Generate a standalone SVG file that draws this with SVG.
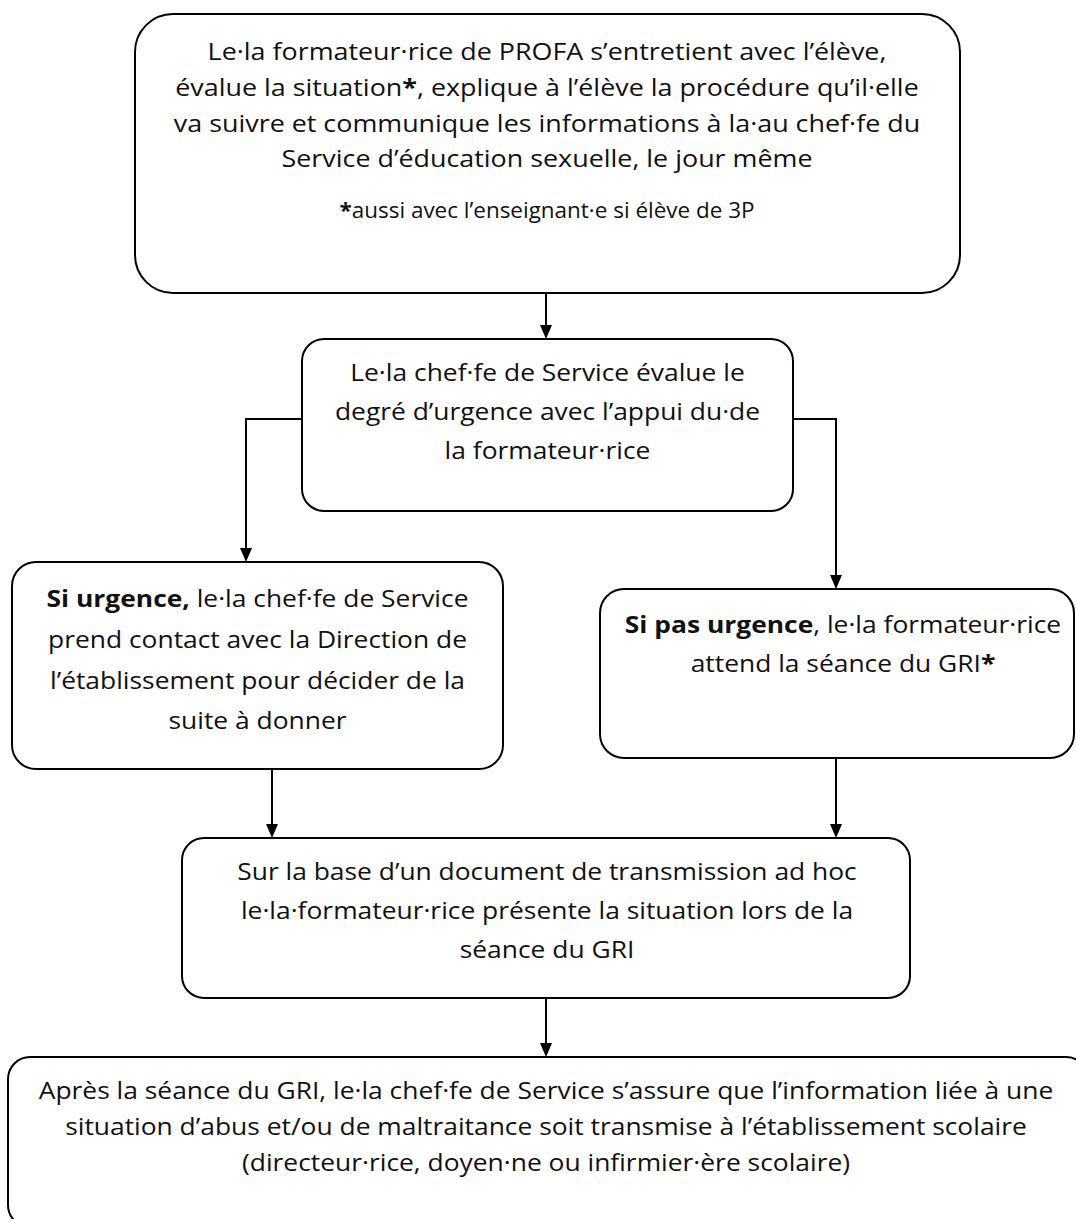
<svg xmlns="http://www.w3.org/2000/svg" width="1076" height="1219" viewBox="0 0 1076 1219">
<style>
.box{fill:#fff;stroke:#000;stroke-width:2}
.t{font-family:"Open Sans","Noto Sans",sans-serif;font-size:24px;fill:#111;text-anchor:middle}
.fn{font-size:21px}
.b{font-weight:bold}
.c{fill:none;stroke:#000;stroke-width:2}
.ah{fill:#000}
</style>
<rect width="1076" height="1219" fill="#fff"/>
<g id="connectors">
<path class="c" d="M546,293 V325"/><path class="ah" d="M540,325 L552,325 L546,339 Z"/>
<path class="c" d="M302,419 H246 V548"/><path class="ah" d="M240,548 L252,548 L246,562 Z"/>
<path class="c" d="M793,419 H836 V575"/><path class="ah" d="M830,575 L842,575 L836,589 Z"/>
<path class="c" d="M272,769 V824"/><path class="ah" d="M266,824 L278,824 L272,838 Z"/>
<path class="c" d="M836,758 V824"/><path class="ah" d="M830,824 L842,824 L836,838 Z"/>
<path class="c" d="M546,998 V1043"/><path class="ah" d="M540,1043 L552,1043 L546,1057 Z"/>
</g>
<g id="n1">
<rect class="box" x="135" y="14" width="825" height="279" rx="38"/>
<text class="t" transform="translate(547,60) scale(1.12,1)">Le·la formateur·rice de PROFA s’entretient avec l’élève,</text>
<text class="t" transform="translate(547,96) scale(1.12,1)">évalue la situation<tspan class="b">*</tspan>, explique à l’élève la procédure qu’il·elle</text>
<text class="t" transform="translate(547,132) scale(1.12,1)">va suivre et communique les informations à la·au chef·fe du</text>
<text class="t" transform="translate(547,167) scale(1.12,1)">Service d’éducation sexuelle, le jour même</text>
<text class="t fn" transform="translate(547,218) scale(1.07,1)"><tspan class="b">*</tspan>aussi avec l’enseignant·e si élève de 3P</text>
</g>
<g id="n2">
<rect class="box" x="302" y="339" width="491" height="172" rx="22"/>
<text class="t" transform="translate(547.5,381) scale(1.1,1)">Le·la chef·fe de Service évalue le</text>
<text class="t" transform="translate(547.5,420) scale(1.1,1)">degré d’urgence avec l’appui du·de</text>
<text class="t" transform="translate(547.5,459) scale(1.1,1)">la formateur·rice</text>
</g>
<g id="n3">
<rect class="box" x="12" y="562" width="491" height="207" rx="24"/>
<text class="t" transform="translate(257.5,607) scale(1.1,1)"><tspan class="b">Si urgence,</tspan> le·la chef·fe de Service</text>
<text class="t" transform="translate(257.5,648) scale(1.1,1)">prend contact avec la Direction de</text>
<text class="t" transform="translate(257.5,689) scale(1.1,1)">l’établissement pour décider de la</text>
<text class="t" transform="translate(257.5,729) scale(1.1,1)">suite à donner</text>
</g>
<g id="n4">
<rect class="box" x="600" y="589" width="474" height="169" rx="24"/>
<text class="t" transform="translate(843,633) scale(1.1,1)"><tspan class="b">Si pas urgence</tspan>, le·la formateur·rice</text>
<text class="t" transform="translate(843,672) scale(1.1,1)">attend la séance du GRI<tspan class="b">*</tspan></text>
</g>
<g id="n5">
<rect class="box" x="182" y="838" width="728" height="160" rx="22"/>
<text class="t" transform="translate(547,880) scale(1.1,1)">Sur la base d’un document de transmission ad hoc</text>
<text class="t" transform="translate(547,919) scale(1.1,1)">le·la·formateur·rice présente la situation lors de la</text>
<text class="t" transform="translate(547,958) scale(1.1,1)">séance du GRI</text>
</g>
<g id="n6">
<rect class="box" x="8" y="1057" width="1080" height="170" rx="22"/>
<text class="t" transform="translate(546,1099) scale(1.1,1)">Après la séance du GRI, le·la chef·fe de Service s’assure que l’information liée à une</text>
<text class="t" transform="translate(546,1135) scale(1.1,1)">situation d’abus et/ou de maltraitance soit transmise à l’établissement scolaire</text>
<text class="t" transform="translate(546,1171) scale(1.1,1)">(directeur·rice, doyen·ne ou infirmier·ère scolaire)</text>
</g>
</svg>
